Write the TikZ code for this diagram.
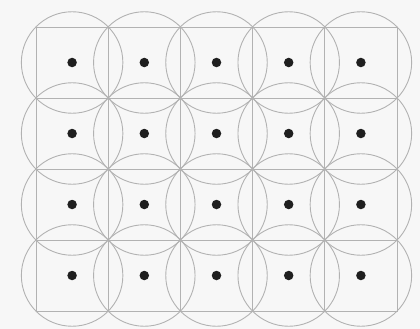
\documentclass[tikz,border=0pt]{standalone}
\begin{document}
\begin{tikzpicture}[x=1pt,y=-1pt,
  gridline/.style={draw=black!30,line width=0.9pt},
  cellbox/.style={rectangle,gridline,minimum width=72.2pt,minimum height=71pt,inner sep=0pt,outer sep=0pt},
  ring/.style={circle,gridline,minimum size=101.5pt,inner sep=0pt,outer sep=0pt},
  dot/.style={circle,fill=black!88,minimum size=9.5pt,inner sep=0pt}]
\fill[white!97!black] (0,0) rectangle (420,329);
\useasboundingbox (0,0) rectangle (420,329);
\foreach \i in {0,...,4}{
  \foreach \j in {0,...,3}{
    \node[cellbox] (box-\i-\j) at ({36+72.2*\i+36.1},{27+71*\j+35.5}) {};
    \node[ring] (ring-\i-\j) at (box-\i-\j.center) {};
    \node[dot] (dot-\i-\j) at (box-\i-\j.center) {};
  }
}
\end{tikzpicture}
\end{document}
